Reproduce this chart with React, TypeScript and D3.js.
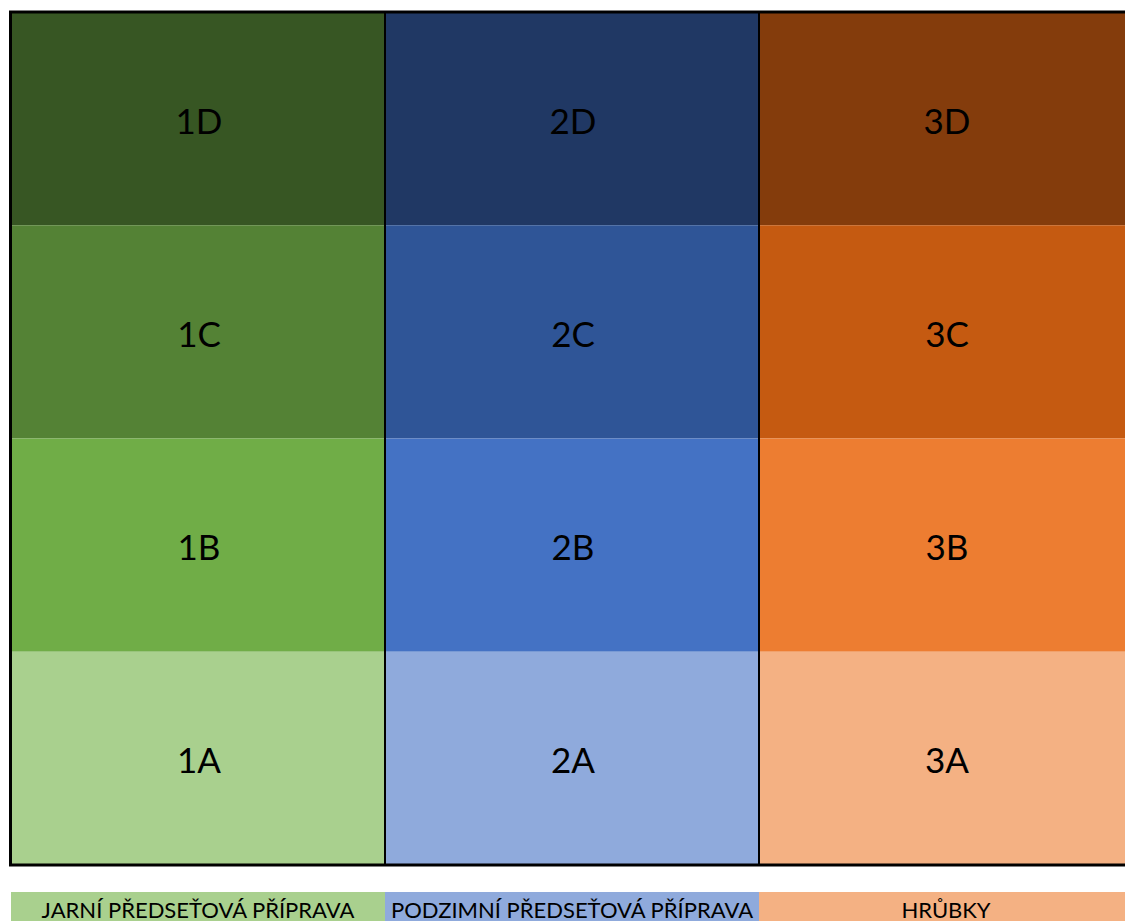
import React from "react";
import * as d3 from "d3";

const groups = ["1", "2", "3"];
const levels = ["D", "C", "B", "A"];
const groupNames = ["JARNÍ PŘEDSEŤOVÁ PŘÍPRAVA", "PODZIMNÍ PŘEDSEŤOVÁ PŘÍPRAVA", "HRŮBKY"];
const greenShades = ["#375623", "#548235", "#70AD47", "#A9D08E"];
const blueShades = ["#203864", "#2F5597", "#4472C4", "#8FAADC"];
const orangeShades = ["#843C0C", "#C55A11", "#ED7D31", "#F4B183"];
const legendColors = ["#A9D08E", "#8FAADC", "#F4B183"];

const W = 1125;
const H = 921;

export default function App() {
  const x = d3.scaleBand<string>().domain(groups).range([11, 1133]);
  const y = d3.scaleBand<string>().domain(levels).range([12, 865]);
  const shades = [greenShades, blueShades, orangeShades];
  const font = "Lato, 'Open Sans', sans-serif";
  return (
    <svg
      width={W}
      height={H}
      style={{ position: "absolute", left: 0, top: 0, background: "#fff" }}
    >
      {groups.map((g, gi) =>
        levels.map((l, li) => (
          <g key={g + l}>
            <rect
              x={x(g)!}
              y={y(l)!}
              width={x.bandwidth()}
              height={y.bandwidth()}
              fill={shades[gi][li]}
            />
            <text
              x={x(g)! + x.bandwidth() / 2 + 1}
              y={y(l)! + y.bandwidth() / 2 + 15}
              textAnchor="middle"
              fontFamily={font}
              fontSize={35}
              fill="#000"
            >
              {g + l}
            </text>
          </g>
        ))
      )}
      {groups.slice(1).map((g) => (
        <line
          key={"div" + g}
          x1={x(g)!}
          x2={x(g)!}
          y1={12}
          y2={865}
          stroke="#000"
          strokeWidth={2}
        />
      ))}
      <rect
        x={10.5}
        y={12}
        width={1140}
        height={853}
        fill="none"
        stroke="#000"
        strokeWidth={3}
      />
      {groups.map((g, gi) => (
        <g key={"leg" + g}>
          <rect x={x(g)!} y={892} width={x.bandwidth()} height={40} fill={legendColors[gi]} />
          <text
            x={x(g)! + x.bandwidth() / 2}
            y={918}
            textAnchor="middle"
            fontFamily={font}
            fontSize={22}
            fill="#000"
          >
            {groupNames[gi]}
          </text>
        </g>
      ))}
    </svg>
  );
}
